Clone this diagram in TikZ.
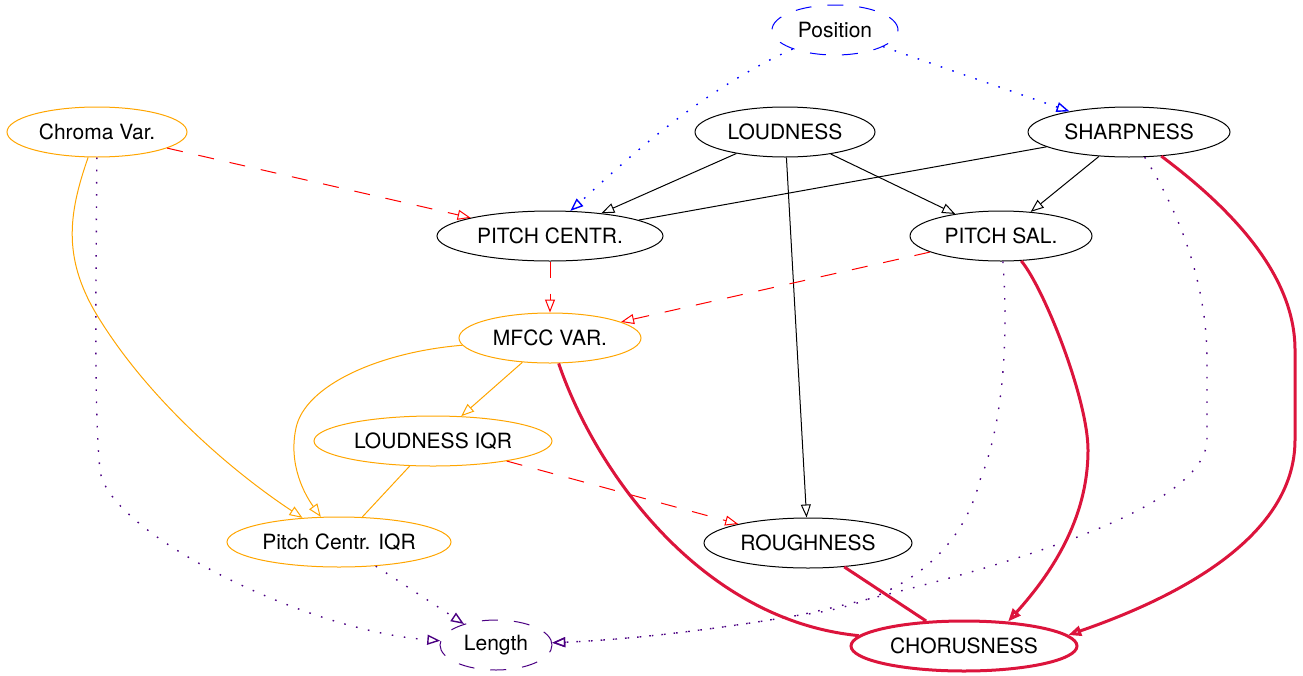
\documentclass[tikz,border=0pt]{standalone}
\usepackage{fontspec}
\setmainfont{TeX Gyre Heros}
\usetikzlibrary{arrows.meta,shapes.geometric}
\definecolor{gvorange}{HTML}{FFA500}
\definecolor{gvcrimson}{HTML}{DC143C}
\definecolor{gvindigo}{HTML}{4B0082}
\begin{document}
\begin{tikzpicture}[x=1pt, y=-1pt, line width=1pt, >={Triangle[open,length=13pt,width=10pt]}]
            \tikzstyle{vertex}=[ellipse, draw, inner sep=0pt, minimum height=50pt, font=\fontsize{21}{25}\selectfont]
            \tikzstyle{overtex}=[vertex, draw=gvorange]
            \tikzstyle{cvertex}=[vertex, draw=gvcrimson, line width=3pt]
            \tikzstyle{dvertex}=[vertex, dash pattern=on 16pt off 16pt]
            \tikzstyle{reddash}=[red, dash pattern=on 16pt off 16pt]
            \tikzstyle{dotline}=[line width=1.4pt, dash pattern=on 1.6pt off 10.6pt]
            \tikzstyle{chorusedge}=[gvcrimson, line width=3pt]

            \useasboundingbox (0,0) rectangle (1303,675);

            \node[dvertex, draw=blue, minimum width=126pt] (pos) at (835,30) {Position};
            \node[overtex, minimum width=180pt] (chroma) at (97,132) {Chroma Var.};
            \node[vertex, minimum width=180pt] (loud) at (785,132) {LOUDNESS};
            \node[vertex, minimum width=202pt] (sharp) at (1129,132) {SHARPNESS};
            \node[vertex, minimum width=226pt] (pcentr) at (550,236) {PITCH CENTR.};
            \node[vertex, minimum width=182pt] (psal) at (1001,236) {PITCH SAL.};
            \node[overtex, minimum width=182pt] (mfcc) at (550,338) {MFCC VAR.};
            \node[overtex, minimum width=238pt] (loudiqr) at (433,441) {LOUDNESS IQR};
            \node[overtex, minimum width=224pt] (pciqr) at (339,542) {Pitch Centr. IQR};
            \node[vertex, minimum width=208pt] (rough) at (808,543) {ROUGHNESS};
            \node[dvertex, draw=gvindigo, minimum width=112pt] (len) at (496,645) {Length};
            \node[cvertex, minimum width=226pt] (chorus) at (964,646) {CHORUSNESS};

            \draw[->] (loud) -- (pcentr);
            \draw[->] (loud) -- (psal);
            \draw[->] (loud) -- (rough);
            \draw (sharp) -- (pcentr);
            \draw[->] (sharp) -- (psal);
            \draw[->, blue, dotline] (pos) -- (sharp);
            \draw[->, blue, dotline] (pos) .. controls (690,95) and (605,180) .. (pcentr.51);
            \draw[->, reddash] (chroma) -- (pcentr);
            \draw[->, reddash] (pcentr) -- (mfcc);
            \draw[->, reddash] (psal) -- (mfcc);
            \draw[->, reddash] (loudiqr) -- (rough);
            \draw[->, gvorange] (mfcc) -- (loudiqr);
            \draw[gvorange] (loudiqr) -- (pciqr);
            \draw[->, gvorange] (chroma) .. controls (68,215) and (62,260) .. (100,320) .. controls (150,400) and (230,470) .. (pciqr);
            \draw[->, gvorange] (mfcc) .. controls (380,352) and (305,385) .. (296,428) .. controls (288,465) and (305,495) .. (pciqr);
            \draw[->, gvindigo, dotline] (pciqr) -- (len);
            \draw[->, gvindigo, dotline] (chroma) .. controls (96,300) and (94,410) .. (100,470) .. controls (106,530) and (300,630) .. (len);
            \draw[->, gvindigo, dotline] (sharp) .. controls (1190,230) and (1207,300) .. (1207,360) -- (1207,440) .. controls (1205,510) and (1000,570) .. (800,615) .. controls (700,632) and (620,640) .. (len);
            \draw[->, gvindigo, dotline] (psal) .. controls (1008,330) and (1005,420) .. (980,480) .. controls (960,560) and (890,605) .. (800,615) .. controls (700,632) and (620,640) .. (len);
            \draw[chorusedge] (mfcc) .. controls (595,470) and (700,620) .. (chorus);
            \draw[chorusedge] (rough) -- (chorus);
            \draw[->, chorusedge] (psal) .. controls (1045,290) and (1088,400) .. (1088,450) .. controls (1088,520) and (1050,575) .. (chorus.29);
            \draw[->, chorusedge] (sharp) .. controls (1240,215) and (1295,280) .. (1295,350) -- (1295,440) .. controls (1295,540) and (1170,600) .. (chorus.6);
        \end{tikzpicture}
\end{document}
